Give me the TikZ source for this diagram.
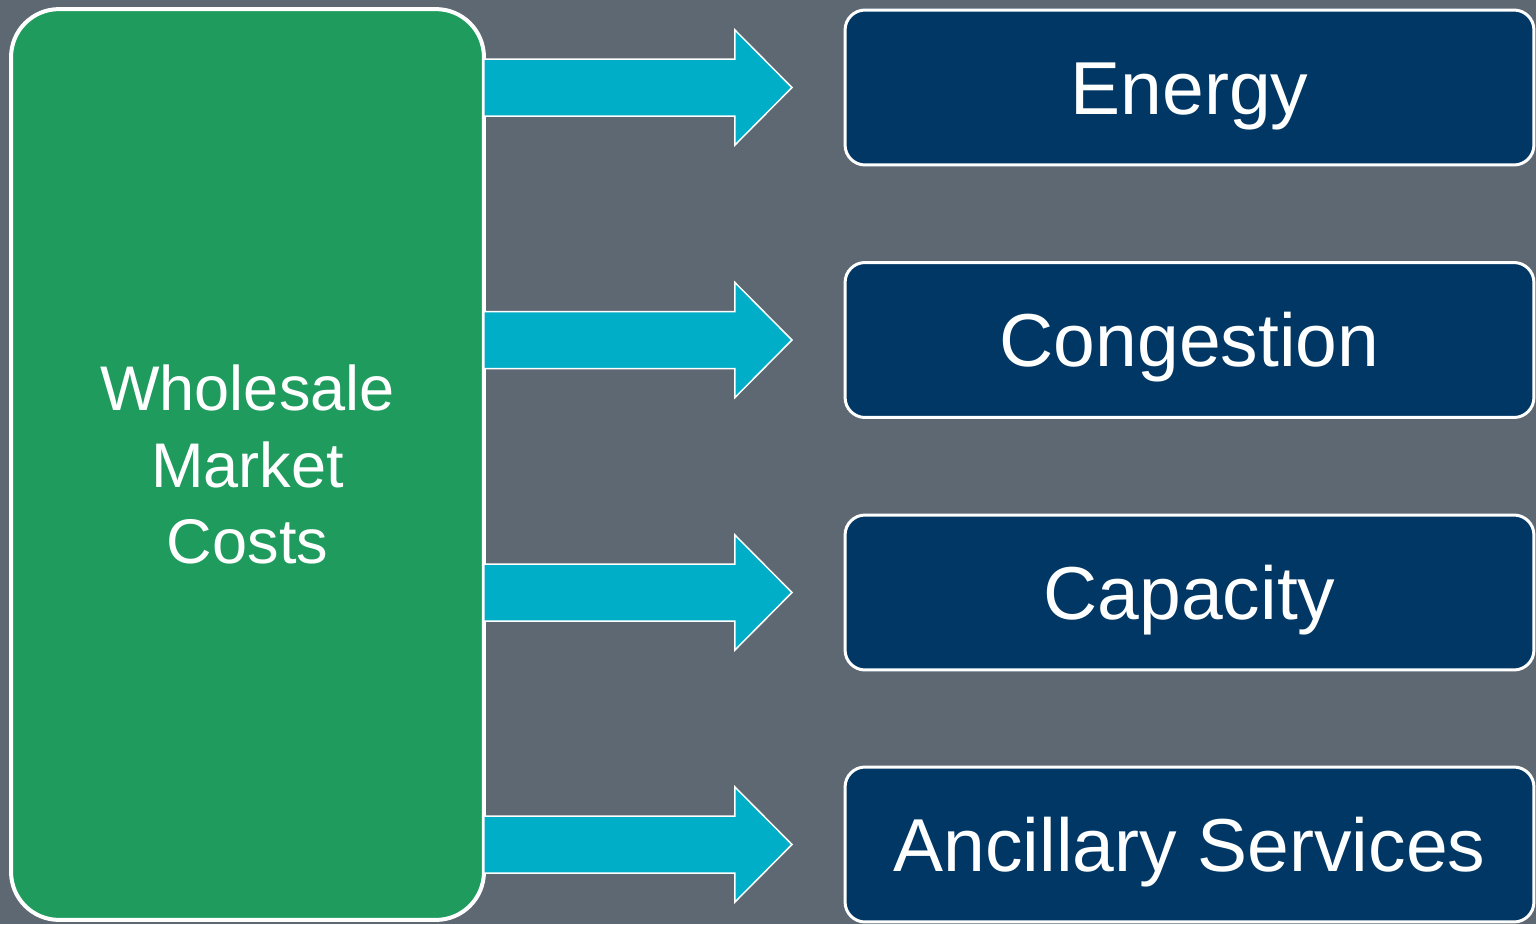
\documentclass[tikz,border=0pt]{standalone}
\usepackage{fontspec}
\setmainfont{Liberation Sans}
\definecolor{slate}{HTML}{5D6872}
\definecolor{leaf}{HTML}{209B5E}
\definecolor{aqua}{HTML}{00AEC7}
\definecolor{navy}{HTML}{003764}
\begin{document}
\begin{tikzpicture}[x=0.02cm,y=-0.02cm,
 whole/.style={draw=white,line width=0.08cm,fill=leaf,rounded corners=0.96cm,
  minimum width=9.46cm,minimum height=18.22cm,inner sep=0pt,outer sep=0pt,
  text=white,align=center,font=\fontsize{35.9}{43.3}\selectfont},
 cost/.style={draw=white,line width=0.06cm,fill=navy,rounded corners=0.4cm,
  minimum width=13.78cm,minimum height=3.1cm,inner sep=0pt,outer sep=0pt,
  text=white,text height=1.06cm,text depth=0pt,font=\fontsize{42.7}{51}\selectfont},
 flow/.style={draw=white,line width=0.03cm,fill=aqua}]

\fill[slate] (0,0) rectangle (1536,924);

\node[whole] (W) at (247.5,464.5) {Wholesale\\Market\\Costs};

\node[cost] (E) at (1189.5,87.5) {Energy};
\node[cost] (G) at (1189.5,340) {Congestion};
\node[cost] (C) at (1189.5,592.5) {Capacity};
\node[cost] (A) at (1189.5,844.5) {Ancillary Services};

\foreach \n in {E,G,C,A} {
 \coordinate (s\n) at (W.east |- \n.west);
 \draw[flow] (s\n) ++(0,-28.5) -- ++(251,0) -- ++(0,-29) -- ++(57,57.5)
  -- ++(-57,57.5) -- ++(0,-29) -- ++(-251,0) -- cycle;
}
\end{tikzpicture}
\end{document}
